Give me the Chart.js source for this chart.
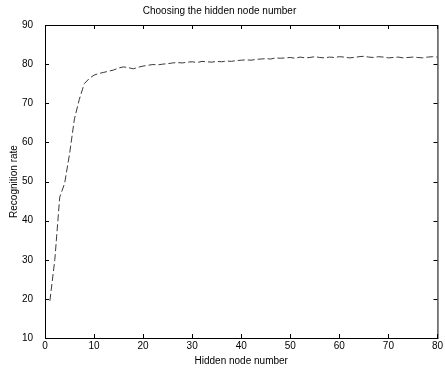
<!DOCTYPE html>
<html>
<head>
<meta charset="utf-8">
<script src="https://cdn.jsdelivr.net/npm/chart.js@4/dist/chart.umd.min.js"></script>
<style>
    html, body { margin: 0; padding: 0; background: #fff; }
    #wrap { width: 445px; height: 372px; }
</style>
</head>
<body>
<div id="wrap"><canvas id="rate_chart"></canvas></div>
<script>
const hiddenNodes = [
    1, 2, 3, 4, 5, 6, 7, 8, 9, 10,
    11, 12, 13, 14, 15, 16, 17, 18, 19, 20,
    21, 22, 23, 24, 25, 26, 27, 28, 29, 30,
    31, 32, 33, 34, 35, 36, 37, 38, 39, 40,
    41, 42, 43, 44, 45, 46, 47, 48, 49, 50,
    51, 52, 53, 54, 55, 56, 57, 58, 59, 60,
    61, 62, 63, 64, 65, 66, 67, 68, 69, 70,
    71, 72, 73, 74, 75, 76, 77, 78, 79, 80,
];
const recognitionRate = [
    19.5, 30, 46, 49.5, 57, 66, 71, 75, 76.3, 77.2,
    77.6, 77.9, 78.2, 78.5, 79, 79.3, 79.1, 78.8, 79.2, 79.5,
    79.7, 79.9, 79.8, 80, 80.1, 80.3, 80.4, 80.3, 80.5, 80.6,
    80.4, 80.7, 80.6, 80.5, 80.7, 80.6, 80.8, 80.7, 80.9, 81,
    81.1, 81, 81.2, 81.3, 81.4, 81.3, 81.6, 81.5, 81.6, 81.7,
    81.5, 81.8, 81.6, 81.7, 81.9, 81.7, 81.6, 81.8, 81.7, 81.9,
    81.8, 81.6, 81.7, 81.9, 82, 81.8, 81.7, 81.9, 81.8, 81.6,
    81.7, 81.8, 81.6, 81.7, 81.8, 81.7, 81.6, 81.8, 81.9, 81.8,
];
const xTicks = [0, 10, 20, 30, 40, 50, 60, 70, 80];
const yTicks = [10, 20, 30, 40, 50, 60, 70, 80, 90];

const fontFamily = '"Liberation Sans", Arial, sans-serif';

// matlab style box with inward ticks on all four sides
const boxPlugin = {
    id: 'box',
    afterDraw(chart) {
        const ctx = chart.ctx;
        const area = chart.chartArea;
        const xScale = chart.scales.x;
        const yScale = chart.scales.y;
        const len = 4;
        ctx.save();
        ctx.strokeStyle = '#000';
        ctx.lineWidth = 1;
        ctx.strokeRect(area.left + 0.5, area.top + 0.5, area.right - area.left, area.bottom - area.top);
        ctx.beginPath();
        xTicks.forEach((v) => {
            const px = Math.round(xScale.getPixelForValue(v)) + 0.5;
            ctx.moveTo(px, area.bottom);
            ctx.lineTo(px, area.bottom - len);
            ctx.moveTo(px, area.top);
            ctx.lineTo(px, area.top + len);
        });
        yTicks.forEach((v) => {
            const py = Math.round(yScale.getPixelForValue(v)) + 0.5;
            ctx.moveTo(area.left, py);
            ctx.lineTo(area.left + len, py);
            ctx.moveTo(area.right, py);
            ctx.lineTo(area.right - len, py);
        });
        ctx.stroke();
        ctx.restore();
    },
};

const rateChartCanvas = document.getElementById('rate_chart');
const rateChartConfig = {
    type: 'line',
    data: {
        datasets: [{
            data: hiddenNodes.map((n, i) => ({ x: n, y: recognitionRate[i] })),
            borderColor: '#3a3a3a',
            borderWidth: 1,
            borderDash: [7, 3],
            pointRadius: 0,
            tension: 0,
        }],
    },
    options: {
        responsive: true,
        maintainAspectRatio: false,
        animation: {
            duration: 0,
        },
        layout: {
            padding: { top: 1, right: 6, bottom: 0, left: 0 },
        },
        plugins: {
            legend: {
                display: false,
            },
            tooltip: {
                enabled: false,
            },
            title: {
                display: true,
                text: 'Choosing the hidden node number',
                color: '#000',
                font: { family: fontFamily, size: 10, weight: 'normal' },
                padding: { top: 4, bottom: 8 },
            },
        },
        scales: {
            x: {
                type: 'linear',
                min: 0,
                max: 80,
                afterFit: (scale) => { scale.height = 34; },
                grid: { drawOnChartArea: false, drawTicks: false, color: 'rgba(0,0,0,0)' },
                border: { display: false },
                ticks: {
                    stepSize: 10,
                    color: '#000',
                    padding: 2,
                    maxRotation: 0,
                    font: { family: fontFamily, size: 10 },
                },
                title: {
                    display: true,
                    text: 'Hidden node number',
                    color: '#000',
                    font: { family: fontFamily, size: 10 },
                    padding: { top: 0, bottom: 5 },
                },
            },
            y: {
                min: 10,
                max: 90,
                afterFit: (scale) => { scale.width = 45; },
                grid: { display: false },
                border: { display: false },
                ticks: {
                    stepSize: 10,
                    color: '#000',
                    padding: 4,
                    font: { family: fontFamily, size: 10 },
                },
                title: {
                    display: true,
                    text: 'Recognition rate',
                    color: '#000',
                    font: { family: fontFamily, size: 10 },
                    padding: { top: 8, bottom: 0 },
                },
            },
        },
    },
    plugins: [boxPlugin],
};
const rateChart = new Chart(rateChartCanvas, rateChartConfig);
</script>
</body>
</html>
